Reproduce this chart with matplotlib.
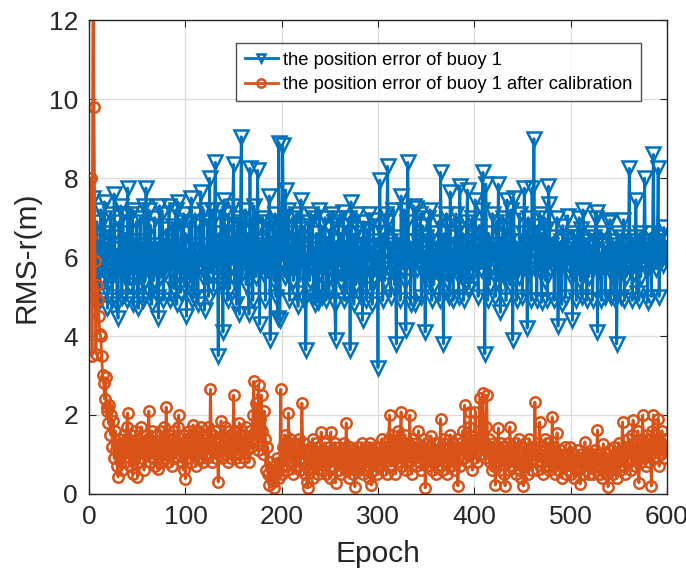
import numpy as np
import matplotlib
matplotlib.use('Agg')
import matplotlib.pyplot as plt

plt.rcParams['font.family'] = ['Liberation Sans', 'DejaVu Sans']

# RMS-r of buoy 1 (epochs 1..600)
buoy_raw = [
    6.5, 5.3, 6.1, 7.5, 5.8, 6.4, 4.8, 6.9, 5.6, 6.2, 4.9, 7.2, 5.5, 6.0, 7.0, 7.4, 5.2, 6.3, 4.7, 6.6,
    5.4, 7.1, 5.9, 4.9, 6.5, 7.6, 5.6, 6.2, 4.8, 4.45, 6.9, 5.7, 7.3, 5.0, 7.1, 6.0, 5.5, 6.6, 4.9, 7.75,
    6.1, 5.3, 7.1, 5.8, 7.2, 4.8, 6.4, 5.6, 6.9, 5.2, 4.7, 6.3, 7.0, 5.5, 6.1, 4.9, 7.3, 5.4, 7.75, 6.2,
    5.7, 7.2, 5.1, 6.8, 4.8, 6.3, 5.4, 7.0, 5.8, 6.1, 5.0, 4.45, 7.3, 5.5, 6.2, 7.1, 4.9, 6.0, 5.6, 6.7,
    5.9, 6.4, 7.3, 4.9, 6.2, 5.7, 6.8, 5.2, 6.0, 7.2, 4.8, 7.4, 5.8, 6.3, 5.1, 6.9, 5.6, 7.1, 5.3, 6.6,
    4.5, 6.2, 5.7, 6.9, 5.4, 7.5, 4.9, 6.3, 5.0, 7.1, 5.6, 6.1, 4.8, 6.8, 5.8, 7.65, 6.0, 5.5, 7.2, 4.65,
    6.3, 5.7, 6.9, 5.0, 8.0, 6.1, 5.6, 7.2, 5.2, 7.0, 8.4, 5.9, 6.4, 3.5, 6.6, 5.8, 7.2, 5.3, 4.1, 7.45,
    6.0, 5.5, 6.8, 4.9, 7.1, 5.2, 6.5, 5.8, 7.3, 8.35, 5.4, 6.6, 4.8, 7.0, 6.2, 4.55, 6.9, 9.05, 5.6, 6.4,
    5.9, 7.2, 5.3, 6.6, 6.1, 4.55, 8.25, 5.7, 6.8, 4.9, 7.3, 6.0, 5.5, 6.7, 8.2, 5.8, 4.3, 6.4, 5.9, 7.0,
    5.6, 6.3, 4.9, 6.9, 5.7, 6.2, 7.55, 3.9, 6.5, 5.8, 6.9, 5.4, 7.1, 5.0, 6.6, 4.45, 8.9, 4.4, 6.2, 5.9,
    8.85, 6.4, 5.5, 7.7, 6.0, 5.6, 7.2, 4.9, 6.3, 5.9, 7.0, 5.4, 6.6, 5.8, 7.1, 5.1, 4.75, 6.7, 5.6, 7.45,
    5.9, 6.5, 4.9, 6.8, 3.65, 6.1, 5.7, 6.9, 5.4, 7.1, 5.8, 7.0, 5.0, 6.2, 4.8, 6.6, 5.9, 4.85, 7.2, 5.6,
    6.8, 5.0, 6.2, 5.8, 7.0, 4.9, 6.5, 6.0, 5.2, 6.7, 5.7, 7.1, 5.4, 6.9, 4.8, 3.9, 6.4, 5.6, 7.0, 5.8,
    6.6, 5.4, 6.2, 7.15, 4.9, 6.4, 5.1, 6.8, 5.9, 7.0, 3.65, 7.4, 5.6, 6.1, 4.8, 6.6, 5.3, 7.1, 6.7, 5.5,
    6.2, 5.0, 6.5, 4.4, 6.9, 5.6, 6.1, 4.9, 6.7, 5.9, 7.1, 5.2, 6.0, 4.8, 6.95, 5.5, 6.4, 5.9, 6.1, 3.2,
    6.8, 7.95, 5.6, 6.3, 4.9, 6.6, 5.4, 7.1, 6.9, 8.3, 5.7, 6.4, 5.0, 6.2, 5.9, 7.2, 5.3, 6.1, 3.8, 6.5,
    5.8, 6.3, 4.9, 7.55, 6.0, 5.7, 7.2, 5.4, 4.15, 6.9, 8.4, 5.9, 6.4, 4.8, 6.2, 5.8, 7.3, 4.8, 6.1, 7.25,
    5.7, 6.4, 5.9, 7.1, 5.0, 6.8, 5.6, 6.1, 4.1, 6.5, 5.8, 7.0, 5.4, 7.2, 6.0, 4.9, 6.6, 5.3, 6.2, 5.9,
    6.4, 5.6, 6.9, 4.9, 8.15, 6.1, 5.5, 3.8, 6.6, 5.9, 7.1, 5.4, 6.8, 5.0, 7.65, 5.7, 6.2, 4.9, 6.5, 5.8,
    7.1, 5.6, 6.7, 5.0, 7.8, 6.3, 5.5, 6.6, 4.9, 6.2, 5.4, 6.9, 7.7, 5.2, 5.2, 6.4, 5.9, 7.0, 5.6, 6.5,
    7.45, 5.8, 6.3, 5.0, 6.8, 6.0, 5.7, 7.2, 8.15, 5.9, 3.55, 7.85, 6.1, 4.9, 6.6, 5.3, 6.2, 5.8, 7.1, 5.9,
    6.3, 5.0, 6.9, 5.4, 7.85, 6.1, 4.6, 6.5, 5.8, 7.0, 5.5, 6.7, 4.9, 7.45, 5.7, 6.4, 5.3, 7.2, 6.0, 3.9,
    7.5, 5.7, 6.4, 4.9, 6.2, 5.5, 7.1, 5.8, 6.1, 5.0, 6.6, 7.75, 5.9, 6.3, 4.2, 7.0, 5.6, 6.5, 4.9, 7.75,
    6.2, 9.0, 5.7, 6.4, 4.9, 6.8, 5.9, 7.1, 5.6, 4.85, 6.6, 5.8, 7.0, 5.4, 6.7, 4.9, 7.8, 7.35, 5.7, 6.3,
    5.8, 6.5, 4.9, 6.2, 5.9, 7.0, 4.25, 6.1, 5.7, 6.4, 4.8, 6.8, 5.9, 6.2, 5.0, 6.5, 7.05, 5.8, 6.1, 5.5,
    6.3, 4.4, 6.6, 5.8, 6.1, 4.9, 6.5, 5.9, 7.0, 5.4, 6.7, 5.0, 7.2, 6.0, 5.6, 6.4, 4.9, 6.1, 5.5, 6.6,
    5.8, 6.3, 4.9, 6.5, 5.9, 7.0, 7.15, 4.1, 6.4, 5.7, 6.1, 4.9, 6.6, 5.8, 6.3, 5.0, 6.2, 5.9, 6.9, 5.7,
    6.95, 5.0, 6.3, 5.5, 6.1, 4.9, 6.4, 3.8, 6.6, 5.7, 6.2, 5.0, 6.5, 5.6, 6.95, 4.9, 6.3, 5.5, 6.1, 5.9,
    8.25, 5.7, 6.4, 4.9, 6.2, 5.6, 6.5, 7.45, 5.1, 6.3, 4.9, 6.6, 5.5, 6.2, 5.9, 6.4, 8.0, 5.7, 6.1, 4.85,
    6.3, 5.8, 6.6, 5.0, 6.1, 8.6, 5.9, 6.4, 5.7, 6.2, 8.25, 5.0, 6.5, 5.9, 6.2, 5.8, 6.75, 6.0, 6.4, 6.1,
]

# RMS-r of buoy 1 after calibration
buoy_cal = [
    6.5, 8.0, 3.5, 14.0, 9.8, 5.9, 3.55, 5.3, 4.9, 4.5, 4.05, 4.0, 3.5, 3.0, 2.8, 2.4, 2.95, 2.1, 2.2, 1.8,
    2.25, 1.5, 2.0, 1.2, 1.85, 0.9, 1.6, 1.1, 0.7, 0.43, 1.4, 0.9, 1.3, 0.6, 1.2, 1.5, 0.8, 1.1, 1.7, 2.05,
    1.2, 0.7, 1.5, 1.0, 0.5, 1.3, 0.9, 1.6, 1.1, 0.43, 1.4, 0.8, 1.2, 1.7, 0.9, 1.3, 0.6, 1.1, 1.5, 1.0,
    1.4, 2.1, 0.8, 1.2, 1.6, 0.9, 1.3, 0.7, 1.1, 1.5, 0.63, 1.2, 1.0, 1.6, 0.8, 1.3, 1.1, 1.7, 0.9, 2.2,
    1.3, 0.8, 1.5, 1.0, 1.4, 0.7, 1.2, 1.6, 0.9, 1.3, 1.1, 1.7, 2.0, 1.0, 1.4, 0.8, 1.2, 0.6, 1.5, 0.38,
    1.1, 1.4, 0.9, 1.6, 1.2, 0.8, 1.5, 1.75, 1.0, 1.3, 0.7, 1.6, 1.1, 1.4, 0.9, 1.7, 1.2, 0.8, 1.5, 1.0,
    1.4, 0.9, 1.7, 1.2, 1.0, 2.65, 1.3, 0.8, 1.5, 1.1, 1.6, 0.9, 1.3, 0.3, 1.2, 1.4, 1.85, 0.9, 1.5, 1.1,
    1.7, 1.0, 1.3, 0.8, 1.6, 1.2, 0.9, 1.5, 1.1, 2.5, 1.3, 0.9, 1.6, 1.0, 1.4, 1.8, 0.8, 1.3, 1.1, 1.5,
    0.9, 1.4, 1.7, 1.1, 1.3, 0.8, 1.6, 1.2, 1.5, 2.0, 2.85, 1.4, 2.3, 1.7, 1.1, 2.75, 1.9, 1.3, 2.5, 1.6,
    1.0, 2.1, 1.4, 0.6, 1.2, 0.5, 0.22, 0.8, 0.4, 0.6, 0.3, 0.15, 0.7, 0.5, 0.9, 0.6, 0.4, 0.8, 2.65, 0.5,
    1.2, 0.7, 1.5, 0.9, 1.3, 0.6, 2.05, 1.0, 1.4, 0.8, 1.1, 0.5, 1.3, 0.9, 1.2, 0.7, 1.0, 1.4, 0.6, 1.1,
    2.3, 0.9, 1.3, 0.5, 1.1, 0.3, 0.15, 1.0, 0.6, 1.2, 0.8, 1.4, 0.4, 1.0, 0.7, 1.3, 0.9, 0.5, 1.2, 0.8,
    1.57, 0.6, 1.1, 0.9, 1.3, 0.5, 1.0, 0.8, 1.2, 0.4, 1.57, 0.7, 1.1, 0.9, 1.3, 0.28, 0.8, 1.0, 0.6, 1.2,
    0.9, 0.5, 1.1, 0.7, 1.3, 0.8, 1.8, 0.6, 1.0, 0.4, 1.2, 0.8, 1.1, 0.5, 0.9, 0.18, 1.0, 0.7, 1.2, 0.6,
    1.0, 0.8, 1.3, 0.5, 0.9, 1.1, 0.6, 1.2, 0.7, 1.0, 0.4, 1.3, 0.22, 0.8, 1.1, 0.6, 1.2, 0.9, 0.5, 1.0,
    0.7, 1.2, 0.9, 1.4, 0.6, 1.1, 0.8, 1.3, 0.5, 1.0, 1.4, 2.0, 1.2, 0.7, 1.5, 0.9, 1.1, 0.5, 1.3, 0.8,
    1.6, 1.0, 1.4, 2.08, 0.7, 1.2, 0.9, 1.5, 0.6, 1.1, 1.3, 0.8, 2.0, 1.0, 0.5, 1.4, 0.9, 1.2, 0.7, 1.1,
    1.3, 1.6, 0.8, 1.1, 0.6, 1.2, 0.9, 1.4, 0.15, 1.0, 0.7, 1.2, 0.9, 1.1, 1.47, 0.6, 1.0, 0.8, 1.3, 0.5,
    1.1, 0.7, 1.3, 0.9, 1.9, 1.2, 0.6, 1.0, 1.4, 0.8, 1.1, 0.5, 1.2, 0.9, 1.5, 0.7, 1.0, 1.3, 0.6, 1.2,
    0.8, 1.4, 0.2, 1.1, 0.7, 1.3, 1.0, 1.6, 0.9, 2.25, 1.2, 0.8, 1.4, 1.0, 1.7, 2.08, 1.1, 0.6, 1.3, 0.9,
    2.08, 1.4, 0.8, 1.2, 1.6, 2.42, 1.0, 1.5, 2.55, 1.3, 0.9, 1.7, 2.5, 1.1, 1.4, 0.8, 1.2, 0.6, 1.0, 1.3,
    0.7, 0.22, 1.1, 0.8, 1.67, 1.0, 0.6, 1.3, 0.9, 1.2, 0.5, 0.2, 1.0, 0.8, 1.3, 0.6, 1.7, 1.1, 0.7, 1.2,
    0.9, 1.3, 0.5, 1.1, 0.8, 1.4, 0.6, 1.0, 0.4, 1.2, 0.2, 0.9, 1.3, 0.7, 1.1, 0.5, 1.4, 0.8, 1.0, 0.6,
    1.2, 0.9, 2.33, 1.0, 0.6, 1.3, 1.0, 1.82, 0.8, 1.2, 0.5, 1.1, 0.9, 1.4, 0.7, 1.0, 1.3, 0.6, 1.1, 0.8,
    1.95, 0.7, 1.2, 0.5, 0.9, 1.55, 0.6, 1.0, 0.8, 1.1, 0.4, 0.9, 0.7, 1.2, 0.5, 0.8, 1.0, 0.6, 1.2, 0.9,
    0.5, 0.8, 1.0, 0.4, 0.9, 0.6, 1.1, 0.7, 0.9, 0.25, 0.8, 1.0, 0.5, 0.9, 1.32, 0.6, 0.8, 1.0, 0.5, 0.9,
    0.7, 1.0, 0.5, 0.8, 1.1, 0.6, 0.9, 1.62, 0.7, 1.0, 0.5, 0.8, 0.4, 1.27, 0.7, 0.9, 0.5, 1.0, 0.18, 0.8,
    1.1, 0.6, 0.9, 0.5, 1.2, 0.7, 1.0, 0.4, 0.8, 1.3, 0.6, 0.9, 1.1, 1.82, 0.7, 1.0, 0.5, 1.2, 0.8, 1.4,
    0.9, 1.2, 0.6, 1.5, 1.87, 1.0, 0.7, 1.3, 0.9, 1.6, 0.28, 1.1, 0.8, 1.4, 2.0, 1.0, 1.3, 0.7, 1.5, 1.1,
    0.8, 1.4, 1.0, 0.2, 1.6, 2.0, 1.2, 0.9, 1.5, 1.1, 1.9, 0.7, 1.3, 1.0, 1.6, 1.2, 0.9, 1.4, 1.1, 1.2,
]

epoch = np.arange(1, len(buoy_raw) + 1)

blue = '#0072BD'
orange = '#D95319'

fig = plt.figure(figsize=(6.86, 5.79), dpi=100)
ax = fig.add_axes([0.130, 0.147, 0.842, 0.818])

ax.plot(epoch, buoy_raw, color=blue, lw=2, marker='v', ms=10, mfc='none', mew=1.8,
        label='the position error of buoy 1')
ax.plot(epoch, buoy_cal, color=orange, lw=2, marker='o', ms=7.5, mfc='none', mew=1.8,
        label='the position error of buoy 1 after calibration')

ax.set_xlim(0, 600)
ax.set_ylim(0, 12)
ax.set_xticks(np.arange(0, 601, 100))
ax.set_yticks(np.arange(0, 13, 2))
ax.grid(True, color='#dcdcdc', lw=0.9)
ax.set_axisbelow(True)
ax.tick_params(direction='in', top=True, right=True, labelsize=19, length=5,
               colors='#262626', pad=8)
for s in ax.spines.values():
    s.set_color('#262626')
    s.set_linewidth(1.0)

ax.set_xlabel('Epoch', fontsize=21.5, color='#262626', labelpad=8)
ax.set_ylabel('RMS-r(m)', fontsize=21.5, color='#262626', labelpad=6)

leg = ax.legend(loc='upper right', bbox_to_anchor=(0.955, 0.951), borderaxespad=0,
                fontsize=13.2, frameon=True, fancybox=False, handlelength=1.8,
                handletextpad=0.3, borderpad=0.45, labelspacing=0.4)
leg.get_frame().set_edgecolor('#262626')
leg.get_frame().set_linewidth(1.0)
for h in leg.legend_handles:
    h.set_markersize(6)

fig.savefig('out.png', dpi=100)
